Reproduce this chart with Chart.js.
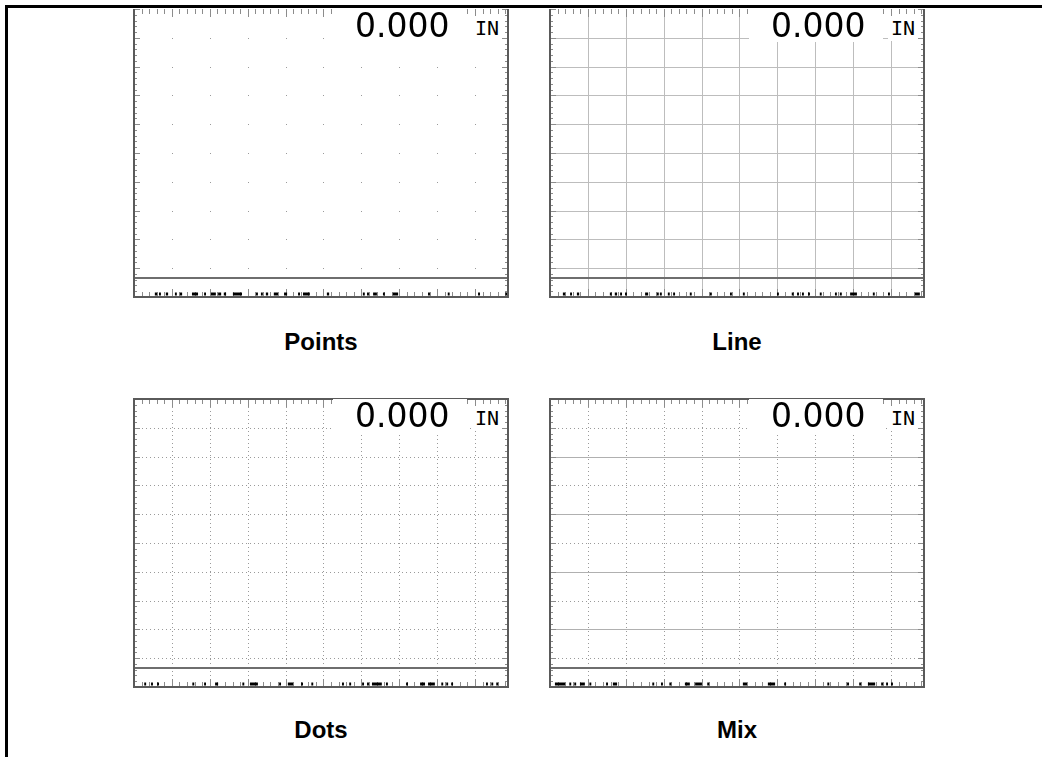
<!DOCTYPE html>
<html>
<head>
<meta charset="utf-8">
<script src="https://cdn.jsdelivr.net/npm/chart.js@4.4.1/dist/chart.umd.min.js"></script>
<style>
  body { margin: 0; background: #fff; width: 1042px; height: 757px; overflow: hidden; position: relative; }
  .frame { position: absolute; left: 5px; top: 5px; width: 1040px; height: 760px;
           border-top: 3px solid #000; border-left: 3px solid #000; }
  .panel { position: absolute; width: 382px; height: 296px; }
  .panel canvas { position: absolute; left: 0; top: 0; }
  .readout { position: absolute; background: #fff; color: #000; white-space: nowrap; }
  .val { left: 203px; top: 4px; width: 134px; height: 33px; line-height: 33px; font-size: 33px; padding-left: 22px;
         box-sizing: border-box; font-family: "DejaVu Sans", sans-serif; }
  .unit { left: 342px; top: 11px; width: 30px; height: 25px; line-height: 25px; font-size: 20px; padding-left: 3px;
          box-sizing: border-box; font-family: "DejaVu Sans Mono", monospace; }
  .label { position: absolute; width: 374px; text-align: center; font: bold 24px "Liberation Sans", Arial, sans-serif;
           height: 30px; line-height: 30px; color: #000; }
</style>
</head>
<body>
<div class="frame"></div>

<div class="panel" style="left:130px; top:5px;"><canvas id="cPoints" width="382" height="296"></canvas>
  <div class="readout val">0.000</div><div class="readout unit">IN</div></div>
<div class="panel" style="left:546px; top:5px;"><canvas id="cLine" width="382" height="296"></canvas>
  <div class="readout val">0.000</div><div class="readout unit">IN</div></div>
<div class="panel" style="left:130px; top:395px;"><canvas id="cDots" width="382" height="296"></canvas>
  <div class="readout val">0.000</div><div class="readout unit">IN</div></div>
<div class="panel" style="left:546px; top:395px;"><canvas id="cMix" width="382" height="296"></canvas>
  <div class="readout val">0.000</div><div class="readout unit">IN</div></div>

<div class="label" style="left:134px; top:327px;">Points</div>
<div class="label" style="left:550px; top:327px;">Line</div>
<div class="label" style="left:134px; top:715px;">Dots</div>
<div class="label" style="left:550px; top:715px;">Mix</div>

<script>
// screen in grid divisions
const xMax = 9.87;
const yMax = 10;
const gridX = [1, 2, 3, 4, 5, 6, 7, 8, 9];
const gridY = [1, 2, 3, 4, 5, 6, 7, 8, 9];
const solidMixY = [2, 4, 6, 8];
const baselineY = 0.66;
const noiseY = 0.1;

// black baseline noise marks along the bottom edge, [from, to] in divisions
const noisePoints = [[0.55,0.61],[0.66,0.71],[0.84,0.90],[1.08,1.13],[1.21,1.27],[1.53,1.69],[1.85,1.90],
  [2.03,2.16],[2.22,2.30],[2.37,2.43],[2.61,2.85],[3.22,3.27],[3.35,3.40],[3.48,3.54],[3.69,3.80],
  [3.96,4.04],[4.33,4.38],[4.46,4.64],[5.09,5.15],[6.04,6.09],[6.15,6.20],[6.31,6.41],[6.57,6.62],
  [6.83,6.97],[7.76,7.81],[8.28,8.33],[9.08,9.13],[9.80,9.87]];
const noiseLine = [[0.34,0.40],[0.53,0.58],[0.71,0.77],[1.58,1.63],[1.71,1.77],[1.85,1.90],[1.98,2.03],
  [2.51,2.59],[2.82,2.87],[2.90,2.95],[3.11,3.16],[3.25,3.30],[3.69,3.74],[4.22,4.27],[4.75,4.80],
  [5.09,5.14],[5.99,6.04],[6.38,6.43],[6.52,6.57],[6.65,6.70],[6.81,6.86],[7.12,7.17],[7.52,7.57],
  [7.65,7.70],[7.92,8.10],[8.52,8.57],[8.92,8.97],[9.63,9.76]];
const noiseDots = [[0.27,0.32],[0.45,0.50],[0.61,0.66],[1.54,1.59],[1.85,1.90],[2.14,2.22],[2.86,2.91],
  [3.06,3.27],[3.83,3.88],[4.06,4.20],[4.41,4.46],[4.68,4.73],[5.49,5.54],[5.68,5.73],[6.02,6.07],
  [6.15,6.20],[6.28,6.54],[6.65,6.70],[7.18,7.23],[7.55,7.68],[7.76,7.94],[8.11,8.16],[8.24,8.29],
  [8.37,8.42],[9.29,9.34],[9.43,9.48],[9.56,9.61]];
const noiseMix = [[0.13,0.40],[0.51,0.56],[0.64,0.69],[0.79,0.92],[1.04,1.09],[1.48,1.53],[1.66,1.77],
  [2.70,2.75],[2.93,2.98],[3.15,3.20],[3.56,3.69],[3.83,4.01],[4.15,4.20],[5.09,5.20],[5.75,5.94],
  [6.18,6.23],[7.32,7.37],[7.84,7.89],[8.16,8.21],[8.39,8.58],[8.74,8.79],[8.87,8.92],[9.00,9.05]];

const scopeGrid = {
  id: 'scopeGrid',
  beforeDatasetsDraw(chart, args, opts) {
    const { ctx, chartArea: a, scales: { x, y } } = chart;
    const px = v => Math.round(x.getPixelForValue(v)) + 0.5;
    const py = v => Math.round(y.getPixelForValue(v)) + 0.5;
    ctx.save();
    ctx.lineWidth = 1;

    const vLine = (v, dash, color) => {
      ctx.strokeStyle = color; ctx.setLineDash(dash);
      ctx.beginPath(); ctx.moveTo(px(v), a.top); ctx.lineTo(px(v), a.bottom); ctx.stroke();
    };
    const hLine = (v, dash, color) => {
      ctx.strokeStyle = color; ctx.setLineDash(dash);
      ctx.beginPath(); ctx.moveTo(a.left, py(v)); ctx.lineTo(a.right, py(v)); ctx.stroke();
    };

    if (opts.style === 'points') {
      ctx.fillStyle = '#9a9a9a';
      gridX.forEach(gx => gridY.forEach(gy => ctx.fillRect(px(gx) - 0.5, py(gy) - 0.5, 1, 1)));
    } else if (opts.style === 'line') {
      gridX.forEach(g => vLine(g, [], '#bdbdbd'));
      gridY.forEach(g => hLine(g, [], '#bdbdbd'));
    } else if (opts.style === 'dots') {
      gridX.forEach(g => vLine(g, [1, 3], '#9a9a9a'));
      gridY.forEach(g => hLine(g, [1, 3], '#9a9a9a'));
    } else if (opts.style === 'mix') {
      gridX.forEach(g => vLine(g, [1, 3], '#9a9a9a'));
      gridY.forEach(g => {
        if (solidMixY.includes(g)) hLine(g, [], '#b0b0b0');
        else hLine(g, [1, 3], '#9a9a9a');
      });
    }

    // edge ticks, five per division
    ctx.setLineDash([]);
    ctx.strokeStyle = '#8c8c8c';
    for (let i = 0; i <= Math.floor(xMax * 5); i++) {
      const v = i / 5, major = i % 5 === 0;
      const X = px(v);
      const l = major ? 8 : 5;
      ctx.beginPath();
      ctx.moveTo(X, a.top); ctx.lineTo(X, a.top + l);
      ctx.moveTo(X, a.bottom); ctx.lineTo(X, a.bottom - l);
      ctx.stroke();
    }
    for (let i = 0; i <= yMax * 5; i++) {
      const v = i / 5, major = i % 5 === 0;
      const Y = py(v);
      const l = major ? 6 : 3;
      ctx.beginPath();
      ctx.moveTo(a.left, Y); ctx.lineTo(a.left + l, Y);
      ctx.moveTo(a.right, Y); ctx.lineTo(a.right - l, Y);
      ctx.stroke();
    }
    ctx.restore();
  },
  afterDatasetsDraw(chart, args, opts) {
    const { ctx, chartArea: a } = chart;
    ctx.save();
    ctx.strokeStyle = '#5a5a5a';
    ctx.lineWidth = 2;
    ctx.beginPath();
    if (!opts.top) {
      ctx.moveTo(a.left, a.bottom); ctx.lineTo(a.left, a.top);
      ctx.lineTo(a.right, a.top); ctx.lineTo(a.right, a.bottom);
    } else {
      ctx.moveTo(a.left, a.top); ctx.lineTo(a.left, a.bottom);
      ctx.moveTo(a.right, a.top); ctx.lineTo(a.right, a.bottom);
    }
    ctx.moveTo(a.left - 1, a.bottom); ctx.lineTo(a.right + 1, a.bottom);
    ctx.stroke();
    ctx.restore();
  }
};

function noiseData(marks) {
  const pts = [];
  marks.forEach(([a, b]) => {
    pts.push({ x: a, y: noiseY }, { x: b, y: noiseY }, { x: b, y: null });
  });
  return pts;
}

function makeScope(id, style, marks, onTop) {
  return new Chart(document.getElementById(id), {
    type: 'line',
    data: {
      datasets: [
        {
          label: 'Baseline',
          data: [{ x: 0, y: baselineY }, { x: xMax, y: baselineY }],
          borderColor: '#6e6e6e',
          borderWidth: 2,
          pointRadius: 0
        },
        {
          label: 'Noise',
          data: noiseData(marks),
          borderColor: '#000',
          borderWidth: 3,
          borderCapStyle: 'butt',
          pointRadius: 0,
          spanGaps: false
        }
      ]
    },
    options: {
      responsive: false,
      animation: false,
      events: [],
      layout: { padding: 4 },
      plugins: {
        legend: { display: false },
        tooltip: { enabled: false },
        scopeGrid: { style, top: onTop }
      },
      scales: {
        x: { type: 'linear', min: 0, max: xMax, display: false },
        y: { type: 'linear', min: 0, max: yMax, display: false }
      }
    },
    plugins: [scopeGrid]
  });
}

makeScope('cPoints', 'points', noisePoints, true);
makeScope('cLine', 'line', noiseLine, true);
makeScope('cDots', 'dots', noiseDots, false);
makeScope('cMix', 'mix', noiseMix, false);
</script>
</body>
</html>
